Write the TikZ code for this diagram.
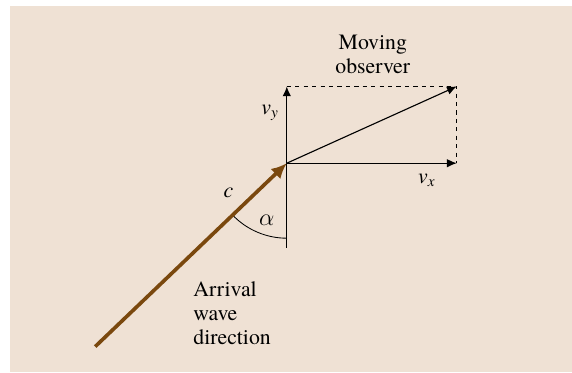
\documentclass[tikz,border=0pt]{standalone}
\usepackage{fontspec}
\setmainfont{TeX Gyre Termes}
\usetikzlibrary{arrows.meta}
\definecolor{fondo}{RGB}{239,225,212}
\definecolor{marrone}{RGB}{122,72,14}
\begin{document}
\begin{tikzpicture}[>={Latex[length=7pt,width=6pt]}, font=\fontsize{15.5}{17}\selectfont]
    % Sfondo
    \useasboundingbox (-7.17,-5.22) rectangle (7.13,4.08);
    \fill[fondo] (-6.92,-5.22) rectangle (7.13,3.93);

    % Punti
    \coordinate (O) at (0,0);
    \coordinate (vy) at (0,1.92);
    \coordinate (vx) at (4.25,0);
    \coordinate (v) at (4.25,1.92);
    \coordinate (sorgente) at (-4.79,-4.585);
    \coordinate (giu) at (0,-2.125);

    % Componenti della velocita
    \draw[->, line width=0.8pt] (O) -- (vy);
    \draw[->, line width=0.8pt] (O) -- (vx);
    \draw[->, line width=0.8pt] (O) -- (v);
    \draw[dashed, line width=0.5pt] (vy) -- (v) -- (vx);

    % Direzione dell'onda
    \draw[line width=0.6pt] (O) -- (giu);
    \draw[line width=0.6pt] (O) ++(270:1.875) arc[start angle=270, end angle=223.75, radius=1.875];
    \draw[-{Latex[length=11pt,width=10pt]}, marrone, line width=2.6pt] (sorgente) -- (O);

    % Etichette
    \node (osservatore) at (2.15,2.71) [align=center] {Moving\\observer};
    \node (lvy) at (-0.42,1.26) {\textit{v}\textsubscript{\textit{y}}};
    \node (lvx) at (3.5,-0.42) {\textit{v}\textsubscript{\textit{x}}};
    \node (lc) at (-1.46,-0.735) {\textit{c}};
    \node (lalpha) at (-0.5,-1.435) [font=\fontsize{19}{20}\selectfont] {$\alpha$};
    \node (arrivo) at (-2.46,-3.74) [anchor=west, align=left] {Arrival\\wave\\direction};
\end{tikzpicture}
\end{document}
